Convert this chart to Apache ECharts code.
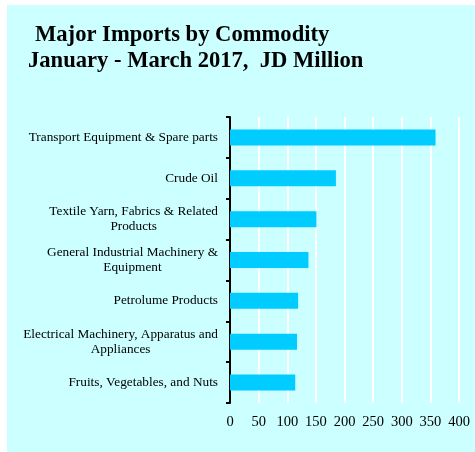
<!DOCTYPE html>
<html>
<head>
<meta charset="utf-8">
<script src="https://cdn.jsdelivr.net/npm/echarts@6/dist/echarts.min.js"></script>
<style>
  html, body { margin: 0; padding: 0; background: #ffffff; }
  #chart { width: 475px; height: 452px; }
</style>
</head>
<body>
<div id="chart"></div>
<script>
// Commodity groups, top to bottom
const commodities = [
  'Transport Equipment & Spare parts',
  'Crude Oil',
  'Textile Yarn, Fabrics & Related\nProducts',
  'General Industrial Machinery &\nEquipment',
  'Petrolume Products',
  'Electrical Machinery, Apparatus and\nAppliances',
  'Fruits, Vegetables, and Nuts'
];
// Import values, JD million
const importValues = [359, 185, 151, 137, 119, 117, 114];
// Value axis ticks
const valueTicks = [0, 50, 100, 150, 200, 250, 300, 350, 400];

const serif = '"Liberation Serif", "Times New Roman", serif';

const chart = echarts.init(document.getElementById('chart'), null, { renderer: 'canvas' });

chart.setOption({
  backgroundColor: '#ffffff',
  animation: false,
  graphic: [{
    type: 'rect',
    left: 7, top: 5, z: -10,
    shape: { width: 468, height: 447 },
    style: { fill: '#CCFFFF' },
    silent: true
  }],
  title: [
    {
      text: 'Major Imports by Commodity',
      left: 30, top: 19,
      textStyle: { fontFamily: serif, fontWeight: 'bold', fontSize: 22.6, color: '#000' }
    },
    {
      text: 'January - March 2017,  JD Million',
      left: 23, top: 45,
      textStyle: { fontFamily: serif, fontWeight: 'bold', fontSize: 22.6, color: '#000' }
    }
  ],
  grid: { left: 230, right: 16, top: 117, bottom: 49, containLabel: false },
  xAxis: {
    type: 'value',
    min: valueTicks[0],
    max: valueTicks[valueTicks.length - 1],
    interval: valueTicks[1] - valueTicks[0],
    axisLine: { show: false },
    axisTick: { show: false },
    splitLine: { show: true, lineStyle: { color: '#ffffff', width: 2 } },
    axisLabel: { fontFamily: serif, fontSize: 14.5, color: '#000', margin: 12 }
  },
  yAxis: {
    type: 'category',
    inverse: true,
    data: commodities,
    axisLine: { show: true, lineStyle: { color: '#000', width: 2 } },
    axisTick: { show: true, inside: false, length: 4, lineStyle: { color: '#000', width: 2 } },
    axisLabel: {
      margin: 12,
      align: 'right',
      // each line centred within the right-aligned label block
      formatter: name => name.split('\n').map(line => '{c|' + line + '}').join('\n'),
      rich: {
        c: { fontFamily: serif, fontSize: 13.3, color: '#000', lineHeight: 15, align: 'center' }
      }
    }
  },
  series: [{
    type: 'bar',
    data: importValues,
    barWidth: 16,
    itemStyle: { color: '#00CCFF' }
  }]
});
</script>
</body>
</html>
